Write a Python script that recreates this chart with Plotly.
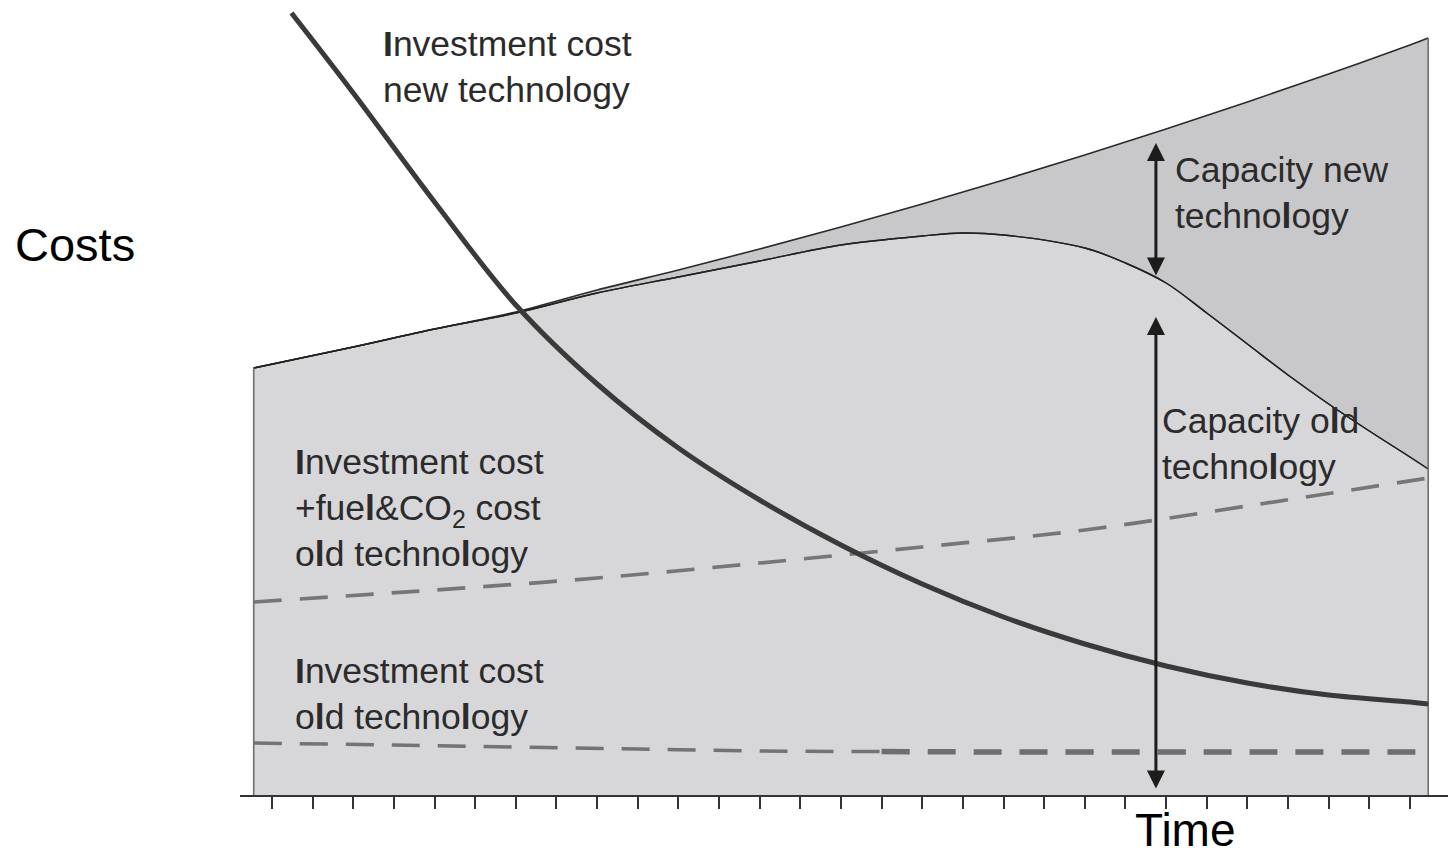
import plotly.graph_objects as go

# ---------------- data (time units / cost units) ----------------
tick_times = list(range(29))

# total capacity (upper envelope)
env_t = [-0.45, 2, 4, 6, 8, 10, 12, 14, 16, 18, 20, 22, 24, 26, 28, 28.45]
env_c = [42.7, 44.8, 46.6, 48.3, 50.5, 52.5, 54.6, 56.8, 59.1, 61.5, 64.0, 66.6, 69.3, 72.1, 75.0, 75.7]

# capacity of old technology
old_t = [-0.45, 2, 4, 6, 8, 10, 12, 14, 16, 17, 18, 20, 21, 22, 23, 24, 25, 26, 27, 28, 28.45]
old_c = [42.7, 44.8, 46.6, 48.2, 50.2, 51.8, 53.4, 55.0, 55.9, 56.2, 56.0, 54.7, 53.2, 51.2, 48.2, 45.1, 42.0, 39.1, 36.4, 33.8, 32.6]

# investment cost new technology
new_t = [0.48, 2, 4, 6, 8, 10, 12, 14, 16, 18, 20, 22, 24, 26, 28, 28.45]
new_c = [78.2, 70.2, 59.3, 49.0, 41.1, 34.7, 29.5, 25.0, 21.1, 17.8, 15.1, 12.9, 11.2, 10.0, 9.3, 9.1]

# investment + fuel & CO2 cost old technology
fuel_t = [-0.45, 4, 8, 12, 16, 20, 24, 28.45]
fuel_c = [19.3, 20.5, 21.7, 23.2, 24.8, 26.5, 28.9, 31.7]

# investment cost old technology
inv_old_t = [-0.45, 3, 6, 9, 12, 15, 18, 22, 25, 28.45]
inv_old_c = [5.2, 5.0, 4.8, 4.6, 4.4, 4.35, 4.3, 4.3, 4.3, 4.3]

# capacity arrows
arrow_t = 21.75
arrow_new = [65.2, 51.8]
arrow_old = [47.8, 0.5]

# ---------------- figure ----------------
LIGHT = "#d7d7d9"
DARK = "#c8c8ca"
FONT = "Liberation Sans, Arial, Helvetica, sans-serif"

fig = go.Figure()

# light region under old capacity
fig.add_trace(go.Scatter(x=old_t, y=old_c, mode="lines", fill="tozeroy", line_shape="spline",
                         fillcolor=LIGHT, line=dict(color="#2a2a2a", width=1.4),
                         hoverinfo="skip"))
# dark region between old capacity and total envelope
fig.add_trace(go.Scatter(x=env_t, y=env_c, mode="lines", fill="tonexty", line_shape="spline",
                         fillcolor=DARK, line=dict(color="#2a2a2a", width=1.6),
                         hoverinfo="skip"))
# redraw old capacity line on top
fig.add_trace(go.Scatter(x=old_t, y=old_c, mode="lines", line_shape="spline",
                         line=dict(color="#222222", width=1.4), hoverinfo="skip"))
# vertical borders of the shaded area
fig.add_trace(go.Scatter(x=[env_t[0], env_t[0]], y=[0, env_c[0]], mode="lines",
                         line=dict(color="#6f6f6f", width=1.6), hoverinfo="skip"))
fig.add_trace(go.Scatter(x=[env_t[-1], env_t[-1]], y=[0, env_c[-1]], mode="lines",
                         line=dict(color="#6f6f6f", width=1.6), hoverinfo="skip"))

# dashed: fuel & CO2
fig.add_trace(go.Scatter(x=fuel_t, y=fuel_c, mode="lines", line_shape="spline",
                         line=dict(color="#767676", width=3.7, dash="28px,18px"),
                         hoverinfo="skip"))
# dashed: investment old technology (thin left part, heavier right part)
split = 5
fig.add_trace(go.Scatter(x=inv_old_t[:split + 1], y=inv_old_c[:split + 1], mode="lines",
                         line_shape="spline",
                         line=dict(color="#737373", width=3.5, dash="28px,18px"),
                         hoverinfo="skip"))
fig.add_trace(go.Scatter(x=inv_old_t[split:], y=inv_old_c[split:], mode="lines",
                         line_shape="spline",
                         line=dict(color="#6e6e6e", width=5.5, dash="28px,18px"),
                         hoverinfo="skip"))

# thick line: investment cost new technology
fig.add_trace(go.Scatter(x=new_t, y=new_c, mode="lines", line_shape="spline",
                         line=dict(color="#3a3a3a", width=5), hoverinfo="skip"))

annotations = []
# arrows
for ys in (arrow_new, arrow_old):
    annotations.append(dict(x=arrow_t, y=ys[0], ax=arrow_t, ay=ys[1],
                            xref="x", yref="y", axref="x", ayref="y",
                            text="", showarrow=True, arrowhead=2, startarrowhead=2,
                            arrowside="end+start", arrowwidth=3, arrowsize=1.2,
                            startarrowsize=1.2, arrowcolor="#1c1c1c", standoff=0,
                            startstandoff=0))

TXT = "#2b2b2b"
def label(x, y, text):
    annotations.append(dict(x=x, y=y, xref="x", yref="y", text=text, showarrow=False,
                            xanchor="left", yanchor="middle", align="left",
                            font=dict(family=FONT, size=35.5, color=TXT)))

label(2.68, 72.85, "<b>I</b>nvestment cost<br>new technology")
label(0.52, 28.75, "<b>I</b>nvestment cost<br>+fue<b>l</b>&amp;CO<sub>2</sub> cost<br>o<b>l</b>d techno<b>l</b>ogy")
label(0.52, 10.1, "<b>I</b>nvestment cost<br>o<b>l</b>d techno<b>l</b>ogy")
label(22.18, 60.2, "Capacity new<br>techno<b>l</b>ogy")
label(21.86, 35.1, "Capacity o<b>l</b>d<br>techno<b>l</b>ogy")

# axis titles
annotations.append(dict(x=-0.1366, y=0.692, xref="paper", yref="paper", text="Costs",
                        showarrow=False, xanchor="center", yanchor="middle",
                        font=dict(family=FONT, size=47, color="#000000")))
annotations.append(dict(x=0.7823, y=-0.044, xref="paper", yref="paper", text="Time",
                        showarrow=False, xanchor="center", yanchor="middle",
                        font=dict(family=FONT, size=46, color="#000000")))

fig.update_layout(
    width=1448, height=853, autosize=False,
    margin=dict(l=240, r=0, t=0, b=58),
    paper_bgcolor="white", plot_bgcolor="white",
    showlegend=False,
    annotations=annotations,
    xaxis=dict(range=[-0.787, 28.937], showline=True, linewidth=2, linecolor="#333333",
               ticks="outside", ticklen=12, tickwidth=2, tickcolor="#333333",
               tickvals=tick_times, showticklabels=False, showgrid=False,
               zeroline=False, fixedrange=True),
    yaxis=dict(range=[0, 79.5], visible=False, fixedrange=True),
)

fig.write_html("out.html", config={"displayModeBar": False},
               post_script="document.body.style.margin='0';document.body.style.overflow='hidden';")
